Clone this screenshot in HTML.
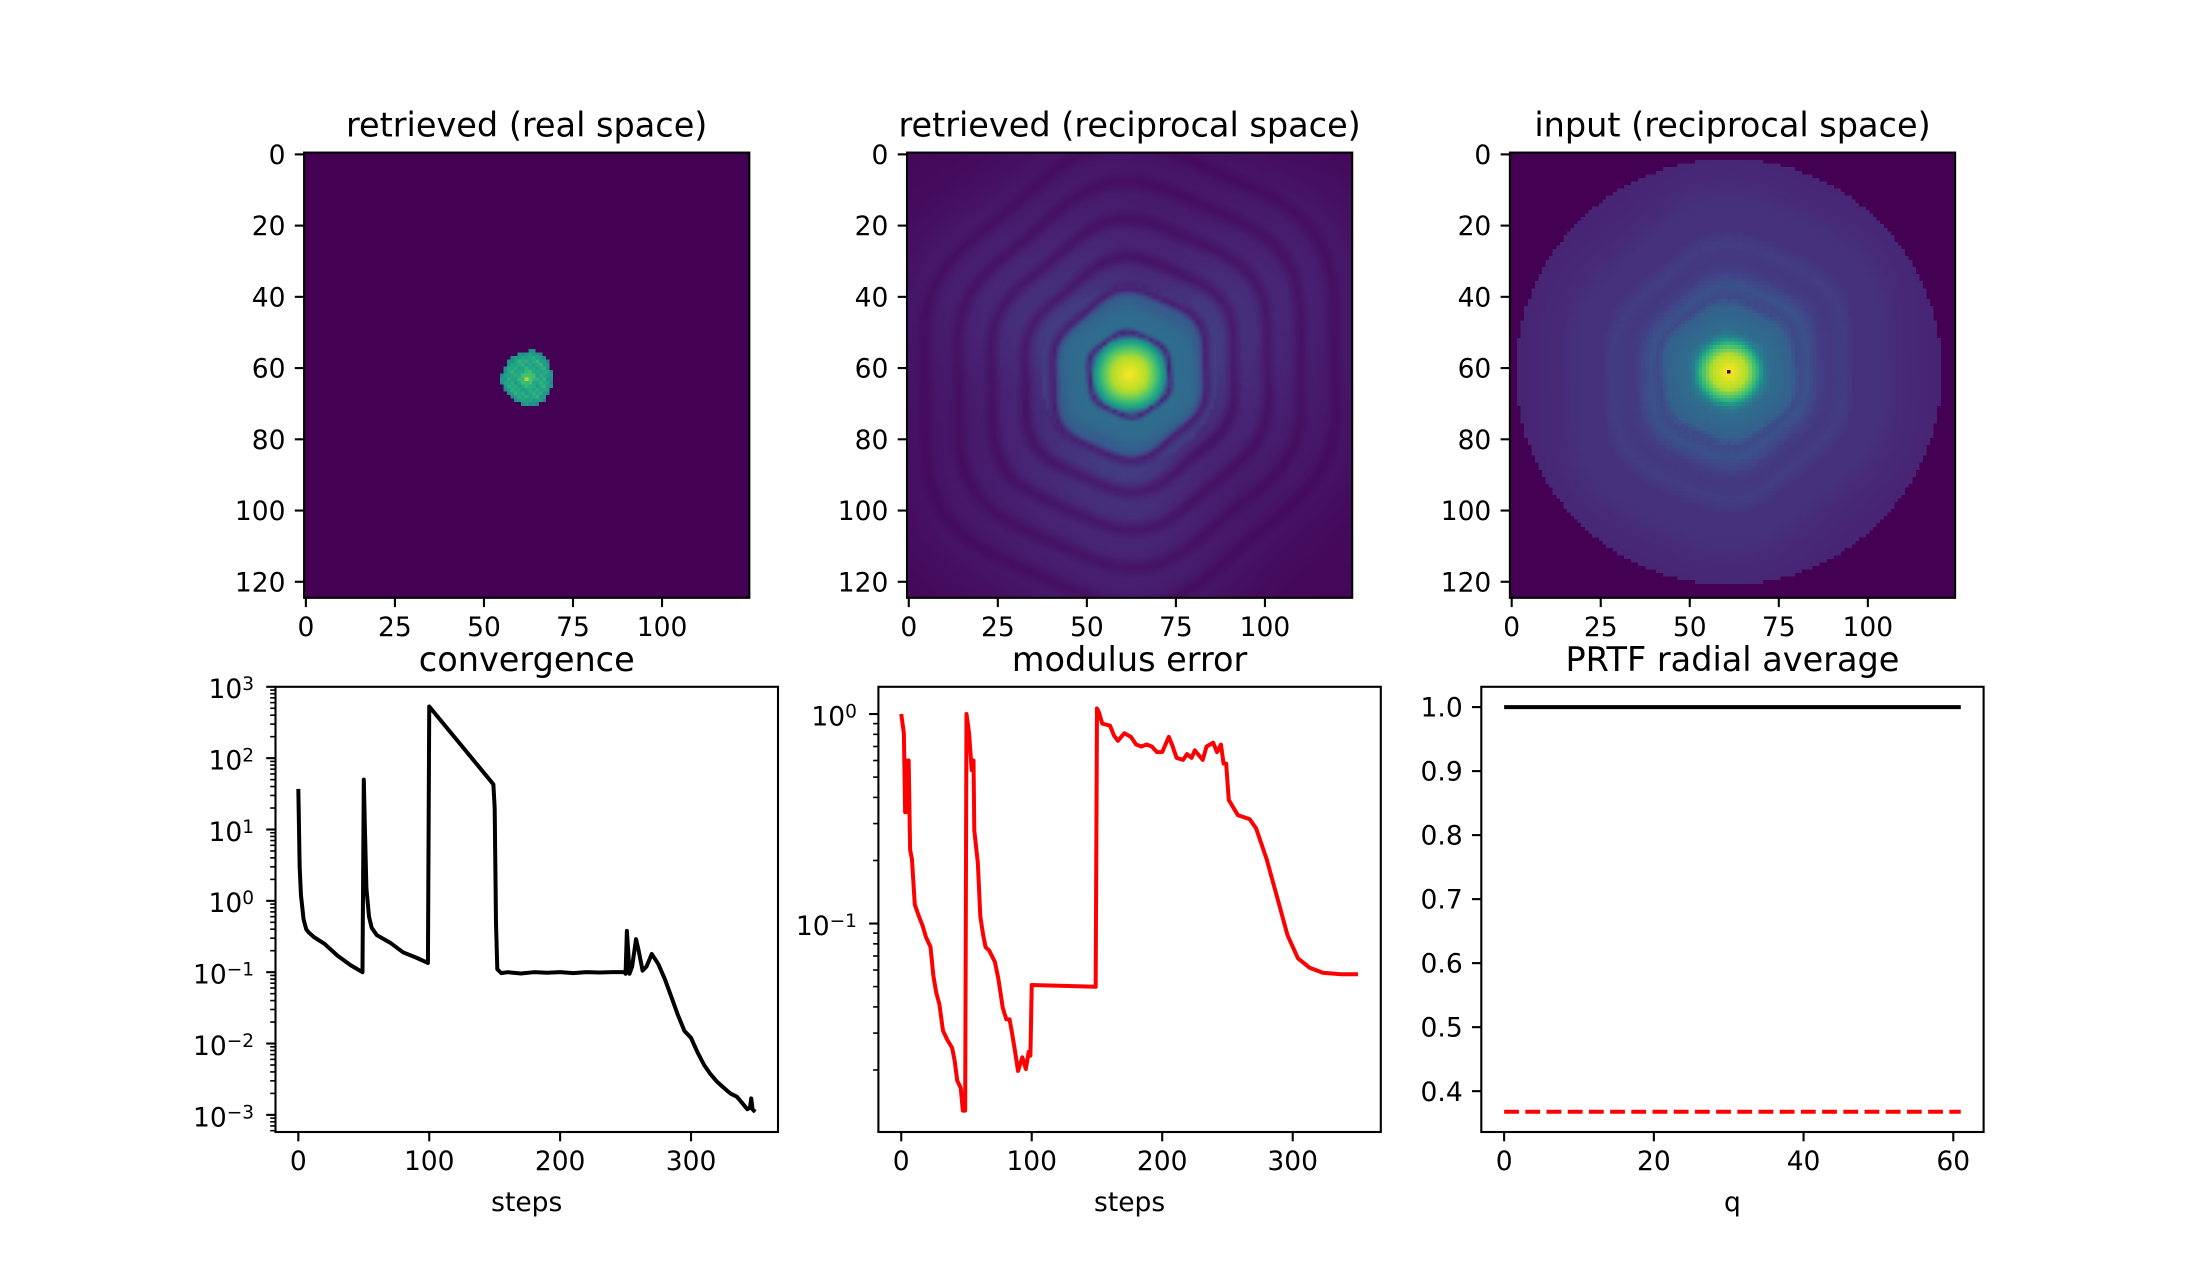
<!DOCTYPE html>
<html><head><meta charset="utf-8"><title>phase retrieval summary</title>
<style>
html,body{margin:0;padding:0;background:#fff;}
#wrap{position:relative;width:2204px;height:1272px;overflow:hidden;background:#fff;}
canvas{position:absolute;}
#fig{position:absolute;left:0;top:0;}
text{font-family:"DejaVu Sans","Liberation Sans",sans-serif;fill:#000;}
</style></head>
<body>
<div id="wrap">
<canvas id="img1" width="125" height="125" style="left:304.1px;top:152.6px;width:445.2px;height:445.2px;image-rendering:pixelated;"></canvas>
<canvas id="img2" width="125" height="125" style="left:907px;top:152.6px;width:445.2px;height:445.2px;"></canvas>
<canvas id="img3" width="125" height="125" style="left:1509.9px;top:152.6px;width:445.2px;height:445.2px;image-rendering:pixelated;"></canvas>
<svg id="fig" width="2204" height="1272" xmlns="http://www.w3.org/2000/svg"></svg>
</div>
<script>
// ---------- data ----------
const convSteps = [0,1,2,4,6,8,12,20,30,40,49,50,51,52,54,56,60,70,80,90,99,100,149,150,151,152,155,160,170,180,190,200,210,220,230,240,249,250,251,252,253,255,258,260,263,266,270,275,280,285,290,295,300,305,310,315,320,325,330,335,340,343,345,346,347,349];
const convValues = [37,3,1.2,0.55,0.4,0.36,0.31,0.25,0.17,0.125,0.1,50,8,1.5,0.6,0.42,0.33,0.26,0.19,0.16,0.135,530,43,20,0.5,0.11,0.097,0.1,0.096,0.1,0.098,0.1,0.097,0.1,0.099,0.1,0.1,0.095,0.38,0.2,0.095,0.12,0.29,0.2,0.105,0.12,0.18,0.13,0.08,0.045,0.025,0.015,0.012,0.0075,0.005,0.0037,0.0029,0.0024,0.002,0.0018,0.0014,0.0012,0.00125,0.0017,0.0012,0.0011];

const modSteps = [0,2,3,4.4,5.2,5.7,6.8,8.2,10.4,13.6,16.4,19,22.4,24.6,26.8,29.2,32,35.5,39,41,42.9,45.6,47.2,49,50,52,54,55.4,56,58.7,60.6,62.8,64.7,67.4,71.8,74.5,77.8,80.5,83,84.6,86.8,89.5,92.8,95.5,97.7,99,100,149,150,151.5,154,160,163,166,171,176,180,184,188,192,196,200,205,207.5,211,216,219,222.5,225,231,234,239,242,245,247,249,251,258,267,272,280,288,296,304,313,323,337,350];
const modValues = [1.0,0.81,0.34,0.6,0.34,0.6,0.225,0.203,0.123,0.108,0.0975,0.086,0.0774,0.0565,0.0468,0.0413,0.0308,0.0277,0.0255,0.022,0.0178,0.0164,0.0128,0.0128,1.0,0.81,0.54,0.6,0.278,0.195,0.108,0.088,0.077,0.0743,0.0655,0.0542,0.0396,0.0349,0.0349,0.0308,0.0255,0.0198,0.023,0.0202,0.0244,0.0234,0.0509,0.0499,1.064,1.02,0.9,0.88,0.79,0.745,0.81,0.778,0.715,0.70,0.715,0.70,0.658,0.658,0.778,0.715,0.618,0.604,0.644,0.618,0.671,0.604,0.70,0.73,0.658,0.715,0.58,0.58,0.389,0.329,0.315,0.284,0.203,0.134,0.088,0.0682,0.0615,0.0582,0.0573,0.0573];

const prtfQ = [0,61];
const prtfValues = [1.0,1.0];
const prtfThreshold = [0.3679,0.3679];

// radial profiles (radius in pixels, normalized value)
const recipR = [0,5,8,10,11.5,13,18,21,22.5,25,28,31,34,38,41,44,48,51,54,58,61,64,70,80,95];
const recipV = [1.0,0.88,0.68,0.5,0.08,0.36,0.34,0.27,0.08,0.18,0.17,0.07,0.14,0.13,0.06,0.11,0.1,0.05,0.09,0.08,0.04,0.07,0.05,0.03,0.02];
const inputR = [0,5,8,10,12,18,20,23,27,30,34,38,45,50,59.8];
const inputV = [1.0,0.88,0.65,0.42,0.35,0.31,0.22,0.25,0.18,0.16,0.18,0.14,0.14,0.12,0.1];
const realR = [0,1,3,5,6.5,7.2];
const realV = [0.95,0.7,0.58,0.62,0.52,0.48];

const imgTicksY = [0,20,40,60,80,100,120];
const imgTicksX = [0,25,50,75,100];
const stepTicks = [0,100,200,300];
const convDecades = [-3,-2,-1,0,1,2,3];
const modDecades = [-1,0];
const prtfTicksY = [0.4,0.5,0.6,0.7,0.8,0.9,1.0];
const prtfTicksX = [0,20,40,60];

// ---------- helpers ----------
const NS = "http://www.w3.org/2000/svg";
const svg = document.getElementById('fig');
function mk(tag, attrs, parent){
  const e = document.createElementNS(NS, tag);
  for (const k in attrs) e.setAttribute(k, attrs[k]);
  (parent||svg).appendChild(e);
  return e;
}
function txt(x,y,s,anchor,size,name,parent){
  const t = mk('text',{x:x,y:y,'text-anchor':anchor,'font-size':size},parent);
  t.textContent = s;
  
  
  return t;
}
function powLabel(x,y,exp,name,parent){
  const t = mk('text',{x:x,y:y,'text-anchor':'end','font-size':26.5},parent);
  
  
  const a = document.createElementNS(NS,'tspan'); a.textContent='10'; t.appendChild(a);
  const b = document.createElementNS(NS,'tspan'); b.setAttribute('dy','-8'); b.setAttribute('font-size','18.5');
  b.textContent = (exp<0?'\u2212':'')+Math.abs(exp); t.appendChild(b);
  return t;
}
const TS = 26.5, TITLE = 33.5, TL = 9.3, PAD = 9.3;

function frame(ax,g){
  const r = mk('rect',{x:ax.x0,y:ax.y0,width:ax.x1-ax.x0,height:ax.y1-ax.y0,fill:'none',stroke:'#000','stroke-width':2.1},g);
  
  
}
function xtick(ax,px,label,g){
  mk('line',{x1:px,x2:px,y1:ax.y1,y2:ax.y1+TL,stroke:'#000','stroke-width':2.1},g);
  txt(px, ax.y1+TL+PAD+19.5, label,'middle',TS,'x-tick-label',g);
}
function ytick(ax,py,label,g){
  mk('line',{x1:ax.x0-TL,x2:ax.x0,y1:py,y2:py,stroke:'#000','stroke-width':2.1},g);
  if(label!==null) txt(ax.x0-TL-PAD, py+9.6, label,'end',TS,'y-tick-label',g);
}
function ytickMinor(ax,py,g){
  mk('line',{x1:ax.x0-5.3,x2:ax.x0,y1:py,y2:py,stroke:'#000','stroke-width':1.6},g);
}
function title(ax,s,g){ txt((ax.x0+ax.x1)/2, ax.y0-16, s,'middle',TITLE,'axes-title',g); }
function xlabel(ax,s,g){ txt((ax.x0+ax.x1)/2, 1211, s,'middle',TS,'x-axis-title',g); }
function linScale(d0,d1,p0,p1){ return v => p0 + (v-d0)/(d1-d0)*(p1-p0); }
function logScale(l0,l1,p0,p1){ return v => p0 + (Math.log10(v)-l0)/(l1-l0)*(p1-p0); }

// ---------- viridis ----------
const VIR = ['#440154','#482475','#414487','#355f8d','#2a788e','#21918c','#22a884','#44bf70','#7ad151','#bddf26','#fde725'].map(h=>[parseInt(h.slice(1,3),16),parseInt(h.slice(3,5),16),parseInt(h.slice(5,7),16)]);
function viridis(v){
  v = Math.max(0,Math.min(1,v))*10; const i=Math.min(9,Math.floor(v)), f=v-i;
  return VIR[i].map((c,k)=>Math.round(c+(VIR[i+1][k]-c)*f));
}
function interp(rs,vs,r){
  if(r<=rs[0]) return vs[0];
  for(let i=1;i<rs.length;i++) if(r<=rs[i]){ const f=(r-rs[i-1])/(rs[i]-rs[i-1]); return vs[i-1]+(vs[i]-vs[i-1])*f; }
  return vs[vs.length-1];
}
function paint(id, fn){
  const c=document.getElementById(id), ctx=c.getContext('2d'), im=ctx.createImageData(125,125);
  for(let y=0;y<125;y++) for(let x=0;x<125;x++){
    const col=viridis(fn(x,y)), k=(y*125+x)*4;
    im.data[k]=col[0]; im.data[k+1]=col[1]; im.data[k+2]=col[2]; im.data[k+3]=255;
  }
  ctx.putImageData(im,0,0);
}
paint('img1',(x,y)=>{
  const dx=x-62.3, dy=y-62.8, r=Math.hypot(dx,dy*0.92)*(1+0.04*Math.cos(3*Math.atan2(dy,dx)));
  if(r>7.2) return 0;
  return interp(realR,realV,r)+((x*7+y*13)%5-2)*0.02;
});
paint('img2',(x,y)=>{
  const dx=x-62, dy=y-61.7, th=Math.atan2(dy,dx), r0=Math.hypot(dx,dy);
  const r=r0*(1+(r0>11?0.035*Math.cos(6*th+0.6):0.01*Math.cos(4*th))+(r0>20?0.05*Math.cos(2*th-0.9):0));
  const ang = r0>25 ? (0.85+0.15*Math.cos(3*th+1.2)) : 1;
  return interp(recipR,recipV,r)*ang;
});
paint('img3',(x,y)=>{
  const dx=x-61, dy=y-61, r0=Math.hypot(dx,dy);
  if(r0>59.8) return 0;
  if(x===61&&y===61) return 0;
  const th=Math.atan2(dy,dx);
  const r=r0*(1+(r0>10?0.03*Math.cos(6*th+0.6):0)+(r0>20?0.05*Math.cos(2*th-0.9):0));
  return interp(inputR,inputV,r);
});

// ---------- axes geometry ----------
const A = {
  a1:{x0:304.1,x1:749.3,y0:152.6,y1:597.8},
  a2:{x0:907,x1:1352.2,y0:152.6,y1:597.8},
  a3:{x0:1509.9,x1:1955.1,y0:152.6,y1:597.8},
  a4:{x0:275.5,x1:778,y0:686.8,y1:1132},
  a5:{x0:878.4,x1:1380.8,y0:686.8,y1:1132},
  a6:{x0:1481.3,x1:1983.6,y0:686.8,y1:1132}
};
const titles = {a1:'retrieved (real space)',a2:'retrieved (reciprocal space)',a3:'input (reciprocal space)'};
['a1','a2','a3'].forEach(k=>{
  const ax=A[k]; const g=mk('g',{});
  
  
  const sx=linScale(-0.5,124.5,ax.x0,ax.x1), sy=linScale(-0.5,124.5,ax.y0,ax.y1);
  frame(ax,g); title(ax,titles[k],g);
  imgTicksX.forEach(t=>xtick(ax,sx(t),String(t),g));
  imgTicksY.forEach(t=>ytick(ax,sy(t),String(t),g));
});

// convergence
(function(){
  const ax=A.a4; const g=mk('g',{});
  
  
  const sx=linScale(-17.45,366.45,ax.x0,ax.x1), sy=logScale(-3.24,3.0,ax.y1,ax.y0);
  let d=''; convSteps.forEach((s,i)=>{ d+=(i?'L':'M')+sx(s).toFixed(2)+','+sy(convValues[i]).toFixed(2); });
  const p=mk('path',{d:d,fill:'none',stroke:'#000','stroke-width':4,'stroke-linejoin':'round'},g);
  
  
  frame(ax,g); title(ax,'convergence',g); xlabel(ax,'steps',g);
  stepTicks.forEach(t=>xtick(ax,sx(t),String(t),g));
  for(let dd=-4; dd<=3; dd++) for(let m=2;m<=9;m++){ const v=m*Math.pow(10,dd), l=Math.log10(v); if(l>-3.24&&l<3.0) ytickMinor(ax,sy(v),g); }
  convDecades.forEach(e=>{ const py=sy(Math.pow(10,e)); ytick(ax,py,null,g); powLabel(ax.x0-21.5,py+11.4,e,'y-tick-label',g); });
})();

// modulus error
(function(){
  const ax=A.a5; const g=mk('g',{});
  
  
  const sx=linScale(-17.5,367.5,ax.x0,ax.x1), sy=logScale(-1.995,0.13,ax.y1,ax.y0);
  let d=''; modSteps.forEach((s,i)=>{ d+=(i?'L':'M')+sx(s).toFixed(2)+','+sy(modValues[i]).toFixed(2); });
  const p=mk('path',{d:d,fill:'none',stroke:'#ff0000','stroke-width':4,'stroke-linejoin':'round'},g);
  
  
  frame(ax,g); title(ax,'modulus error',g); xlabel(ax,'steps',g);
  stepTicks.forEach(t=>xtick(ax,sx(t),String(t),g));
  for(let dd=-2; dd<=0; dd++) for(let m=2;m<=9;m++){ const v=m*Math.pow(10,dd), l=Math.log10(v); if(l>-1.995&&l<0.13) ytickMinor(ax,sy(v),g); }
  modDecades.forEach(e=>{ const py=sy(Math.pow(10,e)); ytick(ax,py,null,g); powLabel(ax.x0-21.5,py+11.4,e,'y-tick-label',g); });
})();

// PRTF
(function(){
  const ax=A.a6; const g=mk('g',{});
  
  
  const sx=linScale(-3.05,64.05,ax.x0,ax.x1), sy=linScale(0.3362,1.0317,ax.y1,ax.y0);
  const l1=mk('line',{x1:sx(prtfQ[0]),x2:sx(prtfQ[1]),y1:sy(prtfValues[0]),y2:sy(prtfValues[1]),stroke:'#000','stroke-width':4},g);
  
  
  const l2=mk('line',{x1:sx(prtfQ[0]),x2:sx(prtfQ[1]),y1:sy(prtfThreshold[0]),y2:sy(prtfThreshold[1]),stroke:'#ff0000','stroke-width':4,'stroke-dasharray':'14.8,6.4'},g);
  
  
  frame(ax,g); title(ax,'PRTF radial average',g); xlabel(ax,'q',g);
  prtfTicksX.forEach(t=>xtick(ax,sx(t),String(t),g));
  prtfTicksY.forEach(t=>ytick(ax,sy(t),t.toFixed(1),g));
})();
</script>
</body></html>
